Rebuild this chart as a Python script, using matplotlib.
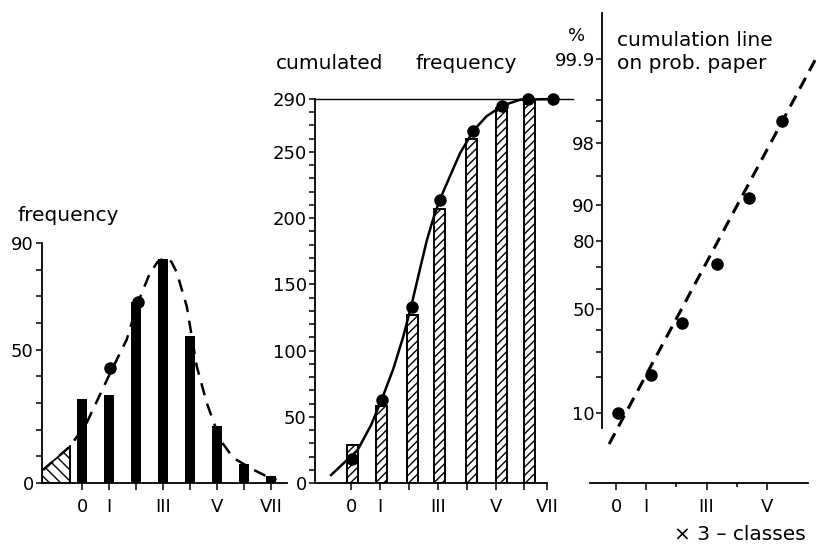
import matplotlib
matplotlib.use('Agg')
import numpy as np
import matplotlib.pyplot as plt
from statistics import NormalDist

# ---------------- data ----------------
class_labels = ['0', 'I', '', 'III', '', 'V', '', 'VII']
freq_pos = [0, 1, 2, 3, 4, 5, 6, 7]
freq_vals = [31.5, 33, 68, 84, 55, 21.5, 7, 2.5]
freq_dot_x = [1.03, 2.06]
freq_dot_y = [43, 68]
freq_curve_x = [-1.43, -0.44, 0.17, 1.03, 1.65, 2.06, 2.51, 2.8, 3.07, 3.3, 3.5, 3.87, 4.24, 4.61, 5.1, 5.59, 6.33, 6.82, 7.19]
freq_curve_y = [5, 13.75, 22.5, 41, 53.75, 67.5, 78.75, 83, 84.5, 83, 79, 66.25, 43.75, 30, 16.25, 9.4, 5, 2.5, 1.25]
tail_x = [-1.478, -1.43, -0.44]
tail_y = [4.5, 5, 13.75]

cum_bar_x = [0.06, 1.06, 2.11, 3.07, 4.18, 5.22, 6.16]
cum_bar_vals = [29, 58, 127, 207, 260, 283, 290]
cum_dot_x = [0.02, 1.06, 2.11, 3.07, 4.23, 5.24, 6.12, 6.99]
cum_dot_y = [18, 63, 133, 214, 266, 285, 290, 290]
cum_curve_x = [-0.69, 0.23, 0.7, 1.06, 1.46, 1.8, 2.11, 2.39, 2.62, 2.85, 3.07, 3.43, 3.77, 4.23, 4.69, 5.24, 5.85, 6.99]
cum_curve_y = [6, 25, 44, 63, 86, 110, 136, 162, 183, 200, 214, 232, 249, 266, 277, 285, 289.5, 290]

prob_x = [0.08, 1.16, 2.19, 3.34, 4.40, 5.50]
prob_pct = [10, 21, 43, 71, 91.5, 99.0]
prob_line_x = [-0.23, 6.62]
prob_line_pct = [4.8, 99.9]
prob_major = [10, 50, 80, 90, 98, 99.9]
prob_major_lab = ['10', '50', '80', '90', '98', '99.9']
prob_minor = [20, 30, 40, 60, 70, 95, 99, 99.5]

# ---------------- figure ----------------
W, H = 816, 545
plt.rcParams['font.family'] = ['DejaVu Sans']
plt.rcParams['hatch.linewidth'] = 1.0
FS = 13     # tick labels
TS = 14.5   # titles
fig = plt.figure(figsize=(W / 100, H / 100), dpi=100)


def box(l, t, r, b):
    return [l / W, 1 - b / H, (r - l) / W, (b - t) / H]


def ftext(x, y, s, size=TS, **kw):
    fig.text(x / W, 1 - y / H, s, fontsize=size, color='black', **kw)


def style(ax):
    for s in ('top', 'right'):
        ax.spines[s].set_visible(False)
    for s in ('left', 'bottom'):
        ax.spines[s].set_linewidth(1.3)
    ax.tick_params(which='both', direction='out', width=1.1, labelsize=FS, colors='black')


# ---- left: frequency ----
ax1 = fig.add_axes(box(42, 243, 287, 483))
ax1.set_xlim(-1.478, 7.574)
ax1.set_ylim(0, 90)
ax1.bar(freq_pos, freq_vals, width=0.37, color='black')
ax1.fill_between(tail_x, 0, tail_y, facecolor='none', edgecolor='black', hatch='\\\\\\', linewidth=1.2)
ax1.plot([tail_x[-1], tail_x[-1]], [0, tail_y[-1]], color='black', lw=1.3)
ax1.plot(freq_curve_x, freq_curve_y, color='black', lw=1.8, dashes=(5, 3.5), clip_on=False)
ax1.plot(freq_dot_x, freq_dot_y, 'o', color='black', ms=8, clip_on=False)
ax1.set_xticks(freq_pos)
ax1.set_xticklabels(class_labels)
ax1.set_yticks([0, 50, 90])
ax1.set_yticks(range(10, 90, 10), minor=True)
style(ax1)
ax1.tick_params(axis='y', which='both', length=4, pad=2)
ax1.tick_params(axis='x', length=5, pad=6)

# ---- middle: cumulated frequency ----
ax2 = fig.add_axes(box(315, 99, 547, 483))
ax2.set_xlim(-1.246, 6.78)
ax2.set_ylim(0, 290)
ax2.bar(cum_bar_x, cum_bar_vals, width=0.38, facecolor='white', edgecolor='black',
        hatch='////', linewidth=1.4)
ax2.plot(cum_curve_x, cum_curve_y, color='black', lw=1.8, clip_on=False)
ax2.plot([-1.246, 7.68], [290, 290], color='black', lw=1.0, clip_on=False)
ax2.plot(cum_dot_x, cum_dot_y, 'o', color='black', ms=8, clip_on=False, zorder=5)
ax2.set_xticks([0, 1, 2, 3, 4, 5, 6, 6.78])
ax2.set_xticklabels(['0', 'I', '', 'III', '', 'V', '', 'VII'])
ax2.set_yticks([0, 50, 100, 150, 200, 250, 290])
ax2.set_yticks([v for v in range(10, 290, 10) if v % 50], minor=True)
style(ax2)
ax2.tick_params(axis='y', which='both', length=4, pad=2)
ax2.tick_params(axis='x', length=5, pad=6)

# ---- right: probability paper ----
ND = NormalDist()
_ppf = np.vectorize(ND.inv_cdf, otypes=[float])
_cdf = np.vectorize(ND.cdf, otypes=[float])


def fwd(p):
    p = np.clip(np.asarray(p, dtype=float), 1e-6, 100 - 1e-6)
    return _ppf(p / 100.0)


def inv(z):
    return _cdf(np.asarray(z, dtype=float)) * 100.0


ax3 = fig.add_axes(box(590, 13, 808, 483))
ax3.set_yscale('function', functions=(fwd, inv))
ax3.set_xlim(-0.861, 6.358)
ax3.set_ylim(1.6, 99.987)
ax3.plot(prob_line_x, prob_line_pct, color='black', lw=2.2, dashes=(4, 2.6), clip_on=False)
ax3.plot(prob_x, prob_pct, 'o', color='black', ms=8, clip_on=False)
ax3.set_yticks(prob_major)
ax3.set_yticklabels(prob_major_lab)
ax3.set_yticks(prob_minor, minor=True)
ax3.yaxis.set_minor_formatter(matplotlib.ticker.NullFormatter())
ax3.set_xticks([0, 1, 3, 5])
ax3.set_xticklabels(['0', 'I', 'III', 'V'])
ax3.set_xticks([2, 4], minor=True)
style(ax3)
ax3.spines['left'].set_position(('axes', 12 / 218))
ax3.spines['left'].set_bounds(7.13, 99.987)
ax3.tick_params(axis='y', which='both', length=4, pad=1)
ax3.tick_params(axis='x', which='major', length=5, pad=6)
ax3.tick_params(axis='x', which='minor', length=3)

# ---- texts ----
ftext(17, 215, 'frequency', ha='left', va='center')
ftext(276, 63, 'cumulated', ha='left', va='center')
ftext(416, 63, 'frequency', ha='left', va='center')
ftext(577, 36, '%', size=FS, ha='center', va='center')
ftext(617, 41, 'cumulation line', ha='left', va='center')
ftext(617, 63, 'on prob. paper', ha='left', va='center')
ftext(674, 535, '\u00d7 3 \u2013 classes', ha='left', va='center')

fig.savefig('out.png', dpi=100)
